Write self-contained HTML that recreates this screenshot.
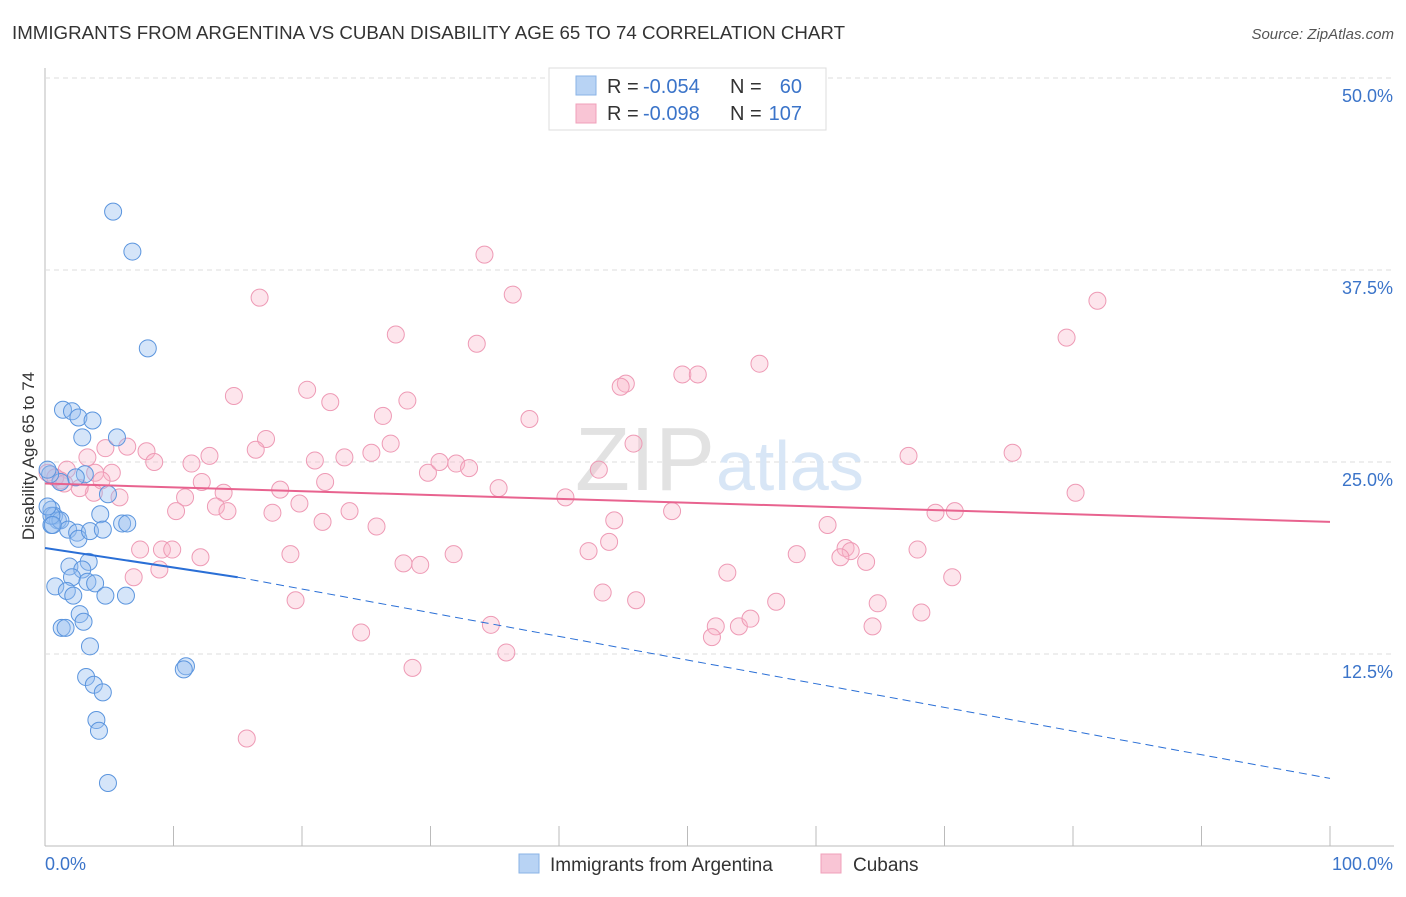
<!DOCTYPE html>
<html><head><meta charset="utf-8"><style>
body{margin:0;background:#fff;font-family:"Liberation Sans",sans-serif;}
svg text{font-family:"Liberation Sans",sans-serif;}
</style></head><body>
<svg id="chart" width="1406" height="892">
<text x="12" y="39" font-size="18" fill="#333" textLength="833" lengthAdjust="spacingAndGlyphs">IMMIGRANTS FROM ARGENTINA VS CUBAN DISABILITY AGE 65 TO 74 CORRELATION CHART</text>
<text x="1394" y="39" font-size="15" fill="#555" text-anchor="end" font-style="italic">Source: ZipAtlas.com</text>
<text x="34" y="456" font-size="17" fill="#333" text-anchor="middle" transform="rotate(-90 34 456)">Disability Age 65 to 74</text>
<g id="grid"></g>
<text x="715" y="490" font-size="90" fill="#e2e2e2" text-anchor="end" font-family="Liberation Serif">ZIP</text>
<text x="716" y="490" font-size="70" fill="#d8e6f6">atlas</text>
<g id="pts"></g>
<g id="lines"></g>
<g>
<rect x="549" y="68" width="277" height="62" fill="#fff" stroke="#ddd"/>
<rect x="576" y="76" width="20" height="19" fill="#b8d3f4" stroke="#8ab3e6"/>
<rect x="576" y="104" width="20" height="19" fill="#f9c5d5" stroke="#f0a0ba"/>
<text x="607" y="93" font-size="20" fill="#333">R =</text>
<text x="643" y="93" font-size="20" fill="#3b74c9">-0.054</text>
<text x="730" y="93" font-size="20" fill="#333">N =</text>
<text x="802" y="93" font-size="20" fill="#3b74c9" text-anchor="end">60</text>
<text x="607" y="120" font-size="20" fill="#333">R =</text>
<text x="643" y="120" font-size="20" fill="#3b74c9">-0.098</text>
<text x="730" y="120" font-size="20" fill="#333">N =</text>
<text x="802" y="120" font-size="20" fill="#3b74c9" text-anchor="end">107</text>
</g>
<g>
<rect x="519" y="854" width="20" height="19" fill="#b8d3f4" stroke="#8ab3e6"/>
<text x="550" y="871" font-size="19" fill="#333">Immigrants from Argentina</text>
<rect x="821" y="854" width="20" height="19" fill="#f9c5d5" stroke="#f0a0ba"/>
<text x="853" y="871" font-size="19" fill="#333">Cubans</text>
</g>
</svg>
<script>
const yTicks=[12.5,25,37.5,50];
const yTickLabels=["12.5%","25.0%","37.5%","50.0%"];
const xTickLabels=["0.0%","100.0%"];
const blueX=[5.3,6.8,8.0,1.4,2.1,2.6,3.7,2.9,5.6,3.1,2.4,1.2,0.4,4.9,4.3,0.5,0.7,1.0,0.5,1.2,1.8,2.5,2.6,3.5,4.5,6.0,6.4,3.4,1.9,2.9,2.1,3.3,3.9,0.8,1.7,2.2,4.7,6.3,2.7,3.0,1.3,1.6,3.5,10.97,10.8,3.2,3.8,4.5,4.0,4.2,4.9,0.2,0.5,0.2,0.6];
const blueY=[41.3,38.7,32.4,28.4,28.3,27.9,27.7,26.6,26.6,24.2,24.0,23.7,24.2,22.9,21.6,21.9,21.5,21.2,20.9,21.2,20.6,20.4,20.0,20.5,20.6,21.0,21.0,18.5,18.2,18.0,17.5,17.2,17.1,16.9,16.6,16.3,16.3,16.3,15.1,14.6,14.2,14.2,13.0,11.7,11.5,11.0,10.5,10.0,8.2,7.5,4.1,24.5,21.5,22.1,20.9];
const pinkX=[34.2,36.4,16.7,27.3,33.6,81.9,79.5,55.6,49.6,50.8,45.2,44.8,20.4,14.7,28.2,22.2,26.3,37.7,17.2,26.9,45.8,4.7,6.4,7.9,16.4,12.8,8.5,11.4,21.0,23.3,25.4,29.8,32.0,33.0,30.7,43.1,5.2,1.7,3.3,12.2,21.8,75.3,67.2,80.2,35.3,18.3,5.8,3.8,13.9,10.9,40.5,19.8,13.3,14.2,10.2,17.7,23.7,25.8,44.3,48.8,69.3,70.8,21.6,60.9,43.9,42.3,31.8,7.4,9.1,9.9,12.1,19.1,27.9,29.2,58.5,62.3,62.7,61.9,63.9,67.9,53.1,70.6,6.9,8.9,43.4,46.0,19.5,56.9,64.8,34.7,52.2,54.0,54.9,51.9,68.2,64.4,24.6,35.9,28.6,15.7,0.2,1.2,2.7,0.8,1.5,3.9,4.4];
const pinkY=[38.5,35.9,35.7,33.3,32.7,35.5,33.1,31.4,30.7,30.7,30.1,29.9,29.7,29.3,29.0,28.9,28.0,27.8,26.5,26.2,26.2,25.9,26.0,25.7,25.8,25.4,25.0,24.9,25.1,25.3,25.6,24.3,24.9,24.6,25.0,24.5,24.3,24.5,25.3,23.7,23.7,25.6,25.4,23.0,23.3,23.2,22.7,23.0,23.0,22.7,22.7,22.3,22.1,21.8,21.8,21.7,21.8,20.8,21.2,21.8,21.7,21.8,21.1,20.9,19.8,19.2,19.0,19.3,19.3,19.3,18.8,19.0,18.4,18.3,19.0,19.4,19.2,18.8,18.5,19.3,17.8,17.5,17.5,18.0,16.5,16.0,16.0,15.9,15.8,14.4,14.3,14.3,14.8,13.6,15.2,14.3,13.9,12.6,11.6,7.0,24.3,23.8,23.3,24.0,23.6,24.3,23.8];
const blueLine=[[0,19.4],[15,17.5],[100,4.4]];
const pinkLine=[[0,23.6],[100,21.1]];
const X=v=>45+v*12.85, Y=v=>846-v*15.36;
const NS="http://www.w3.org/2000/svg";
function mk(tag,attrs,parent){const e=document.createElementNS(NS,tag);for(const k in attrs)e.setAttribute(k,attrs[k]);parent.appendChild(e);return e;}
const grid=document.getElementById('grid');
mk('line',{x1:45,y1:68,x2:45,y2:846,stroke:'#bbb'},grid);
mk('line',{x1:45,y1:846,x2:1394,y2:846,stroke:'#bbb'},grid);
for(let i=0;i<=10;i++){const t=mk('line',{x1:X(i*10),y1:826,x2:X(i*10),y2:846,stroke:'#bbb'},grid);

}
yTicks.forEach((v,i)=>{const l=mk('line',{x1:45,y1:Y(v),x2:1394,y2:Y(v),stroke:'#ddd','stroke-dasharray':'5,4'},grid);


const t=mk('text',{x:1393,y:Y(v)+24,'font-size':18,fill:'#3b74c9','text-anchor':'end'},grid);t.textContent=yTickLabels[i];

});
[[45,'start'],[1393,'end']].forEach((p,i)=>{const t=mk('text',{x:p[0],y:870,'font-size':18,fill:'#3b74c9','text-anchor':p[1]},grid);t.textContent=xTickLabels[i];

});
const pts=document.getElementById('pts');
pinkX.forEach((x,i)=>{const c=mk('circle',{cx:X(x),cy:Y(pinkY[i]),r:8.5,fill:'rgba(248,180,200,0.35)',stroke:'#ee9ab5','stroke-width':1},pts);

});
blueX.forEach((x,i)=>{const c=mk('circle',{cx:X(x),cy:Y(blueY[i]),r:8.5,fill:'rgba(150,190,240,0.4)',stroke:'#5b95de','stroke-width':1},pts);

});
const lines=document.getElementById('lines');
const b1=mk('line',{x1:X(blueLine[0][0]),y1:Y(blueLine[0][1]),x2:X(blueLine[1][0]),y2:Y(blueLine[1][1]),stroke:'#2a6fd6','stroke-width':2},lines);


const b2=mk('line',{x1:X(blueLine[1][0]),y1:Y(blueLine[1][1]),x2:X(blueLine[2][0]),y2:Y(blueLine[2][1]),stroke:'#2a6fd6','stroke-width':1,'stroke-dasharray':'8,5'},lines);


const p1=mk('line',{x1:X(pinkLine[0][0]),y1:Y(pinkLine[0][1]),x2:X(pinkLine[1][0]),y2:Y(pinkLine[1][1]),stroke:'#e8638f','stroke-width':2},lines);


</script>
</body></html>
